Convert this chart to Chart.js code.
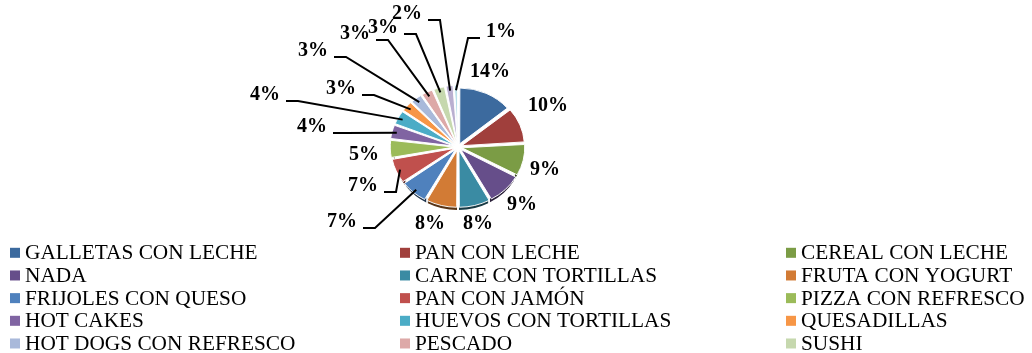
<!DOCTYPE html>
<html>
<head>
<meta charset="utf-8">
<script src="https://cdn.jsdelivr.net/npm/chart.js@4.4.1/dist/chart.umd.min.js"></script>
<style>
  html, body { margin: 0; padding: 0; background: #fff; }
  #wrap { position: relative; width: 1032px; height: 353px; }
</style>
</head>
<body>
<div id="wrap"><canvas id="desayunos"></canvas></div>
<script>
const categories = [
  'GALLETAS CON LECHE', 'PAN CON LECHE', 'CEREAL CON LECHE',
  'NADA', 'CARNE CON TORTILLAS', 'FRUTA CON YOGURT',
  'FRIJOLES CON QUESO', 'PAN CON JAMÓN', 'PIZZA CON REFRESCO',
  'HOT CAKES', 'HUEVOS CON TORTILLAS', 'QUESADILLAS',
  'HOT DOGS CON REFRESCO', 'PESCADO', 'SUSHI',
  'OTROS', 'NO CONTESTÓ'
];
const percentages = [14, 10, 9, 9, 8, 8, 7, 7, 5, 4, 4, 3, 3, 3, 3, 2, 1];
const sliceColors = [
  '#3c6a9e', '#a03f3c', '#7b9c45', '#664e8a', '#3a8ba3', '#d27b35',
  '#4f81bd', '#c0504d', '#9bbb59', '#8064a2', '#4bacc6', '#f79646',
  '#a9b9da', '#dda9a8', '#c6d8ae', '#b9afd0', '#b2dce8'
];
const legendCount = 15; // the last two slices don't fit in the legend

// where each percentage sits, relative to the pie centre (px)
const labelOffsets = [
  [32, -75], [90, -41], [87, 23], [64, 58], [20, 77], [-28, 77],
  [-116, 75], [-95, 39], [-94, 8], [-146, -20], [-193, -52], [-117, -58],
  [-145, -96], [-103, -113], [-75, -119], [-51, -133], [43, -115]
];
const withLeader = [
  false, false, false, false, false, false,
  true, true, false, true, true, true,
  true, true, true, true, true
];

const TILT = 0.9;   // vertical squash of the pie top
const DEPTH = 5;    // thickness of the pie side, px

function shade(hex, f) {
  const n = parseInt(hex.slice(1), 16);
  const r = Math.round(((n >> 16) & 255) * f);
  const g = Math.round(((n >> 8) & 255) * f);
  const b = Math.round((n & 255) * f);
  return `rgb(${r},${g},${b})`;
}

// Chart.js moves an arc out by offset / 4
const pushOut = arc => (arc.options.offset || 0) / 4;

// squashes the pie and draws the darker rim under the front slices
const pie3d = {
  id: 'pie3d',
  beforeDatasetsDraw(chart) {
    const ctx = chart.ctx;
    const arcs = chart.getDatasetMeta(0).data;
    const { x, y } = arcs[0];
    ctx.save();
    ctx.translate(x, y);
    ctx.scale(1, TILT);
    ctx.translate(-x, -y);
    const drop = DEPTH / TILT;
    arcs.forEach((arc, i) => {
      // only the part of the rim facing down is visible
      const a0 = Math.max(arc.startAngle, 0);
      const a1 = Math.min(arc.endAngle, Math.PI);
      if (a0 >= a1) return;
      const mid = (arc.startAngle + arc.endAngle) / 2;
      const off = pushOut(arc);
      const cx = x + Math.cos(mid) * off;
      const cy = y + Math.sin(mid) * off;
      const r = arc.outerRadius - 0.5;
      ctx.beginPath();
      ctx.arc(cx, cy, r, a0, a1);
      ctx.arc(cx, cy + drop, r, a1, a0, true);
      ctx.closePath();
      ctx.fillStyle = shade(sliceColors[i], 0.42);
      ctx.fill();
    });
  },
  afterDatasetsDraw(chart) {
    const ctx = chart.ctx;
    ctx.restore();

    const arcs = chart.getDatasetMeta(0).data;
    const { x, y } = arcs[0];
    ctx.save();
    ctx.font = 'bold 20px "Liberation Serif"';
    ctx.textAlign = 'center';
    ctx.textBaseline = 'middle';
    ctx.fillStyle = '#000';
    ctx.strokeStyle = '#000';
    ctx.lineWidth = 2;
    arcs.forEach((arc, i) => {
      const text = percentages[i] + '%';
      const lx = x + labelOffsets[i][0];
      const ly = y + labelOffsets[i][1];
      if (withLeader[i]) {
        const mid = (arc.startAngle + arc.endAngle) / 2;
        const rr = arc.outerRadius * 0.97 + pushOut(arc);
        const ex = x + Math.cos(mid) * rr;
        const ey = y + Math.sin(mid) * rr * TILT;
        const half = ctx.measureText(text).width / 2;
        const side = labelOffsets[i][0] < 0 ? 1 : -1;
        const hy = ly + 6;
        ctx.beginPath();
        ctx.moveTo(lx + side * (half + 6), hy);
        ctx.lineTo(lx + side * (half + 18), hy);
        ctx.lineTo(ex, ey);
        ctx.stroke();
      }
      ctx.fillText(text, lx, ly);
    });
    ctx.restore();
  }
};

// three-column legend under the pie
const gridLegend = {
  id: 'gridLegend',
  afterDraw(chart) {
    const ctx = chart.ctx;
    const colX = [10, 400, 786];
    const baseY = 259.3, step = 22.67;
    ctx.save();
    ctx.font = '21.3px "Liberation Serif"';
    ctx.textBaseline = 'alphabetic';
    ctx.textAlign = 'left';
    for (let i = 0; i < legendCount; i++) {
      const bx = colX[i % 3];
      const by = baseY + Math.floor(i / 3) * step;
      ctx.fillStyle = sliceColors[i];
      ctx.fillRect(bx, by - 11.5, 10, 10);
      ctx.fillStyle = '#000';
      ctx.fillText(categories[i], bx + 15, by);
    }
    ctx.restore();
  }
};

new Chart(document.getElementById('desayunos'), {
  type: 'pie',
  data: {
    labels: categories,
    datasets: [{
      data: percentages,
      backgroundColor: sliceColors,
      borderColor: '#ffffff',
      borderWidth: 1,
      offset: 16,
      radius: 61
    }]
  },
  options: {
    responsive: true,
    maintainAspectRatio: false,
    animation: false,
    events: [],
    layout: { padding: { left: 0, right: 116, top: 0, bottom: 59 } },
    plugins: {
      legend: { display: false },
      tooltip: { enabled: false }
    }
  },
  plugins: [pie3d, gridLegend]
});
</script>
</body>
</html>
